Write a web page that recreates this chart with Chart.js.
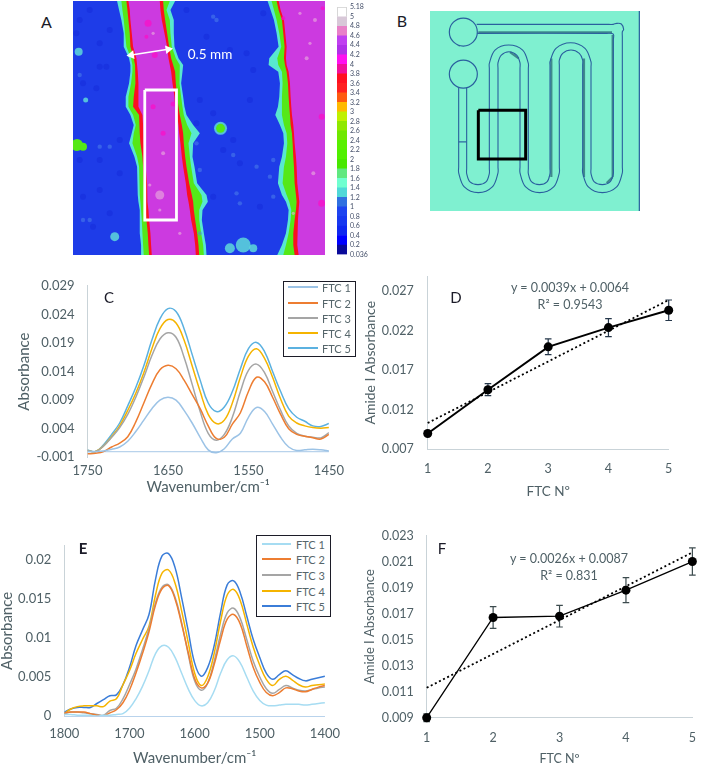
<!DOCTYPE html>
<html>
<head>
<meta charset="utf-8">
<style>
  html, body { margin: 0; padding: 0; background: #fff; }
  body { position: relative; width: 709px; height: 766px; overflow: hidden; font-family: Lato, sans-serif; }
  canvas { position: absolute; }
  .txt { position: absolute; white-space: nowrap; transform: translate(-50%, -50%); }
  .legend { position: absolute; box-sizing: border-box; background: #fff; border: 1.5px solid #1c1c28; }
  .legend i { position: absolute; height: 2px; }
  .legend b { position: absolute; white-space: nowrap; font-weight: 400; font-size: 11px; color: #56666b; transform: translateY(-50%); }
</style>
<script src="https://cdn.jsdelivr.net/npm/chart.js@4"></script>
</head>
<body>
<script>
// panel A, heat map, all read in image units off the micrograph
const heatRows = [3,30,60,100,140,175,195,215,250,290,320,345,375,400,430,470,500,550,585,605,630,660,700,735,765]

const a1Teal = [352,358,365,372,372,388,392,392,388,378,378,392,402,396,388,404,412,414,414,416,420,420,420,424,424]
const a1Green = [365,368,372,376,380,394,398,398,394,386,386,400,408,402,398,412,418,420,420,422,424,426,428,430,432]
const a1Red = [380,383,386,390,392,402,406,406,408,402,400,418,420,420,422,428,430,432,434,436,438,440,444,446,448]
const a1Mag = [386,390,392,396,400,410,412,414,416,416,416,428,430,432,432,436,438,442,442,444,446,448,452,454,456]

const b1Mag = [480,482,486,494,502,506,510,514,518,524,526,532,536,538,542,546,550,558,562,566,570,574,582,586,588]
const b1Red = [490,492,496,502,508,514,520,526,528,532,536,540,546,550,552,556,560,568,576,580,582,586,592,596,598]
const b1Green = [510,500,510,512,516,528,540,540,538,544,548,552,562,575,566,570,574,582,605,608,598,598,604,610,612]
const b1Teal = [526,512,522,522,524,536,550,548,544,550,554,560,580,600,580,578,584,592,620,624,608,606,612,618,620]

const a2Teal = [803,812,822,830,836,808,806,835,840,838,834,826,840,850,852,846,838,834,846,858,866,864,858,846,832]
const a2Green = [815,822,830,838,844,832,835,846,848,846,846,846,852,860,862,858,852,848,860,868,874,872,866,858,850]
const a2Red = [830,836,846,850,854,852,855,860,864,866,868,870,872,876,878,880,882,884,888,890,888,884,880,880,884]
const a2Mag = [836,842,852,856,860,858,860,866,870,872,874,876,880,882,884,888,890,892,896,898,896,894,892,892,896]
const rightEdge = heatRows.map(() => 975)

const darkX = [300,320,290,250,230,330,270,240,300,690,740,790,620,560,750,600,590,640,700,300,250,300,360,360,280,640,720,780,670,240,330,760]
const darkY = [200,200,265,250,100,90,30,60,130,150,160,40,110,30,300,300,370,340,420,480,590,570,520,420,680,590,490,620,450,480,640,210]
const paleBlueX = [590,600,700,710,820,600,330,250,270,640,650,770,810,820,720,240,300]
const paleBlueY = [430,510,465,580,590,700,440,660,660,50,60,500,530,480,610,225,440]
const tealX = [237,258,345,690,730,760,662]
const tealY = [155,300,710,745,735,745,385]
const tealR = [4,2.5,4.5,5,7.5,4,6.5]
const greenX = [232,250,662]
const greenY = [435,440,385]
const greenR = [6,4,4.5]
const hotX = [465,460,490,520,445,965,965,968,850,440]
const hotY = [165,320,400,312,70,350,610,25,55,110]
const hotR = [3,2.5,2.5,2.5,3.5,3,3.5,2,2,2]
const paleX = [480,490,900,945,920,940,450,480,460,930,880,540]
const paleY = [585,460,40,60,175,520,555,630,100,130,640,700]
const paleR = [4.5,2,1.6,2,2,2,1.6,1.6,1.6,1.6,1.6,1.6]

const boxX = [435,530,530,435,435]
const boxY = [270,270,660,660,270]
const arrowX = [395,505]
const arrowY = [165,148]

// colour scale of panel A, bottom to top
const scaleLabels = ['0.036','0.2','0.4','0.6','0.8','1','1.2','1.4','1.6','1.8','2','2.2','2.4','2.6','2.8','3','3.2','3.4','3.6','3.8','4','4.2','4.4','4.6','4.8','5','5.18']
const scaleColors = ['#0a0a9a','#0000ff','#1028f0','#1838f0','#1e44f0','#3070e0','#50d8d8','#70ffd0','#60e880','#48e800','#50f000','#58f000','#70e800','#90e800','#c0f000','#ffba00','#ff5a10','#ff2020','#ff1020','#f0109a','#ff10f0','#b030e8','#c040f0','#e880c8','#d8c8d8','#ffffff']

// panel B, channel walls of the chip
const wallAX = [146,146,146,163,205,247,264,264,264,264,274,297,320,330,330,330,330,347,389,431,448,448,448,448,458,483,508,518,518,518,518,535,577,620,637,637,637,637,641,634,620,610,590,200]
const wallAY = [262,500,518,560,577,560,518,500,205,188,165,155,165,188,205,500,518,560,577,560,518,500,195,180,160,150,160,180,195,500,518,560,577,560,518,500,110,95,88,72,70,73,73,73]
const wallBX = [170,170,170,180,204,228,238,238,238,238,255,296,338,355,355,355,355,365,388,411,420,420,420,420,438,482,525,543,543,543,543,553,577,600,610,610,610,610,590,200]
const wallBY = [262,505,520,545,553,545,520,505,205,190,150,135,150,190,205,505,520,545,553,545,520,505,195,185,145,128,145,185,200,505,520,545,553,545,520,505,120,102,100,100]
const shadeX = [205,606,NaN,608,608,NaN,424,424,NaN,522,522,NaN,608,590,NaN,300,326,NaN,126,150]
const shadeY = [97,97,NaN,105,530,NaN,175,530,NaN,175,530,NaN,530,548,NaN,156,175,NaN,116,138]
const portX = [160,160]
const portY = [96,222]
const stopX = [146,170]
const stopY = [425,425]
const frameX = [205,347,347,205,205]
const frameY = [330,330,476,476,330]
const edgeX = [688,688]
const edgeY = [33,632]

// panel C
const wavesC = [1750,1740,1730,1720,1710,1700,1690,1680,1670,1660,1650,1640,1630,1620,1610,1600,1590,1580,1570,1560,1550,1540,1530,1520,1510,1500,1490,1480,1470,1460,1450]
const c1 = [.0000,.0000,.0001,.0004,.0008,.0018,.0035,.0055,.0075,.0090,.0095,.0090,.0072,.0050,.0025,.0003,-.0002,.0005,.0022,.0032,.0060,.0077,.0070,.0048,.0025,.0008,.0002,.0003,.0004,.0003,.0001]
const c2 = [-.0004,-.0003,.0000,.0008,.0015,.0026,.0052,.0085,.0118,.0143,.0151,.0145,.0125,.0100,.0075,.0045,.0023,.0025,.0048,.0068,.0105,.0130,.0122,.0095,.0065,.0040,.0030,.0027,.0024,.0022,.0030]
const c3 = [.0002,.0000,.0010,.0025,.0042,.0065,.0095,.0130,.0168,.0197,.0208,.0200,.0165,.0118,.0070,.0032,.0020,.0030,.0060,.0105,.0142,.0153,.0138,.0105,.0072,.0045,.0032,.0027,.0025,.0024,.0033]
const c4 = [.0002,.0000,.0010,.0026,.0045,.0072,.0102,.0138,.0180,.0215,.0231,.0225,.0195,.0150,.0105,.0065,.0049,.0055,.0085,.0130,.0167,.0180,.0163,.0130,.0092,.0062,.0050,.0045,.0042,.0041,.0042]
const c5 = [.0003,.0000,.0012,.0030,.0050,.0080,.0112,.0150,.0195,.0232,.0250,.0245,.0215,.0170,.0125,.0085,.0070,.0078,.0105,.0145,.0180,.0191,.0175,.0140,.0105,.0075,.0060,.0053,.0045,.0044,.0049]
const ticksCx = [1750,1650,1550,1450]
const ticksCy = [-0.001,0.004,0.009,0.014,0.019,0.024,0.029]
const colorsC = ['#9cc3e6','#ed7d31','#a5a5a5','#f5b400','#5bb1e0']

// panel E
const wavesE = [1800,1790,1780,1770,1760,1750,1740,1730,1720,1710,1700,1690,1680,1670,1660,1650,1640,1630,1620,1610,1600,1590,1580,1570,1560,1550,1540,1530,1520,1510,1500,1490,1480,1470,1460,1450,1440,1430,1420,1410,1400]
const e1 = [.0002,.0002,.0001,.0001,.0001,.0000,.0001,.0001,.0002,.0003,.0010,.0022,.0038,.0058,.0080,.0090,.0088,.0075,.0055,.0035,.0020,.0013,.0017,.0032,.0055,.0072,.0077,.0068,.0050,.0032,.0020,.0014,.0013,.0014,.0015,.0015,.0015,.0014,.0015,.0016,.0017]
const e2 = [.0004,.0005,.0005,.0005,.0003,.0001,.0000,.0004,.0008,.0017,.0033,.0055,.0080,.0108,.0142,.0163,.0167,.0150,.0118,.0082,.0048,.0036,.0042,.0066,.0098,.0124,.0130,.0118,.0090,.0062,.0043,.0030,.0026,.0030,.0036,.0035,.0032,.0031,.0034,.0037,.0039]
const e3 = [.0003,.0005,.0005,.0004,.0003,.0002,.0001,.0007,.0010,.0022,.0040,.0060,.0085,.0112,.0145,.0165,.0168,.0152,.0120,.0080,.0045,.0033,.0042,.0070,.0105,.0132,.0138,.0125,.0098,.0070,.0050,.0035,.0029,.0034,.0039,.0036,.0033,.0032,.0034,.0036,.0037]
const e4 = [.0003,.0009,.0012,.0013,.0013,.0013,.0012,.0019,.0022,.0040,.0058,.0080,.0098,.0115,.0155,.0183,.0187,.0170,.0135,.0095,.0055,.0039,.0050,.0080,.0122,.0155,.0162,.0148,.0118,.0088,.0065,.0047,.0039,.0047,.0051,.0046,.0040,.0037,.0039,.0040,.0041]
const e5 = [.0005,.0009,.0011,.0011,.0011,.0016,.0021,.0026,.0027,.0040,.0062,.0090,.0110,.0130,.0175,.0205,.0208,.0190,.0152,.0110,.0068,.0051,.0062,.0090,.0133,.0168,.0173,.0158,.0128,.0098,.0075,.0055,.0047,.0053,.0058,.0053,.0048,.0045,.0047,.0049,.0051]
const ticksEx = [1800,1700,1600,1500,1400]
const ticksEy = [0,0.005,0.01,0.015,0.02]
const colorsE = ['#a6dcf2','#ed7d31','#a5a5a5','#f5b400','#3b7dd8']

// panels D and F
const ftc = [1,2,3,4,5]
const amideD = [.00896,.01452,.01996,.0224,.0246]
const errorD = [.0002,.00076,.001,.00114,.0013]
const trendXD = [1,5]
const trendYD = [.0103,.0259]
const ticksDy = [0.007,0.012,0.017,0.022,0.027]
const amideF = [.009,.0167,.0168,.0188,.021]
const errorF = [.0003,.00083,.00083,.00096,.00105]
const trendXF = [1,5]
const trendYF = [.0113,.0217]
const ticksFy = [0.009,0.011,0.013,0.015,0.017,0.019,0.021,0.023]

const seriesNames = ['FTC 1','FTC 2','FTC 3','FTC 4','FTC 5']
const inkColor = '#4f6066'
const axisColor = '#c9d3d8'

Chart.defaults.font.family = 'Lato, sans-serif'
Chart.defaults.color = inkColor
Chart.defaults.animation = false
Chart.defaults.layout.autoPadding = false

const zip = (xs, ys) => xs.map((x, i) => ({x: x, y: ys[i]}))

function addCanvas(left, top, w, h, css) {
    const c = document.createElement('canvas')
    c.width = w
    c.height = h
    c.style.left = left + 'px'
    c.style.top = top + 'px'
    c.style.width = w + 'px'
    c.style.height = h + 'px'
    if (css) c.style.cssText += css
    document.body.appendChild(c)
    return c
}

function addText(text, x, y, size, color, extra) {
    const d = document.createElement('div')
    d.className = 'txt'
    d.textContent = text
    d.style.left = x + 'px'
    d.style.top = y + 'px'
    d.style.fontSize = size + 'px'
    d.style.color = color
    if (extra) d.style.cssText += extra
    document.body.appendChild(d)
}

function addLegend(left, top, w, h, swatchLeft, swatchW, textLeft, rowY, colors) {
    const box = document.createElement('div')
    box.className = 'legend'
    box.style.cssText = `left:${left}px;top:${top}px;width:${w}px;height:${h}px`
    seriesNames.forEach((name, i) => {
        const sw = document.createElement('i')
        sw.style.cssText = `left:${swatchLeft - left - 2}px;top:${rowY[i] - top - 3}px;width:${swatchW}px;background:${colors[i]}`
        const t = document.createElement('b')
        t.textContent = name
        t.style.cssText = `left:${textLeft - left - 2}px;top:${rowY[i] - top - 2}px`
        box.appendChild(sw)
        box.appendChild(t)
    })
    document.body.appendChild(box)
}

// options for a plot whose inner area must sit at a fixed place on the page
function plotScales(cv, area, x, y) {
    const left = parseFloat(cv.style.left)
    const top = parseFloat(cv.style.top)
    const grid = {display: false, drawTicks: false}
    return {
        layout: {padding: {
            top: area.top - top,
            right: left + cv.width - area.right,
            left: 0,
            bottom: 0,
        }},
        scales: {
            x: {
                type: 'linear', min: x.min, max: x.max, reverse: !!x.reverse,
                grid: grid,
                border: {display: !!x.border, color: x.border},
                ticks: {autoSkip: false, maxRotation: 0, padding: x.pad, font: {size: x.size},
                    callback: v => String(v)},
                title: {display: true, text: x.title, padding: 0, font: {size: x.titleSize, lineHeight: 1}},
                afterBuildTicks: s => { s.ticks = x.ticks.map(v => ({value: v})) },
                afterFit: s => { s.height = top + cv.height - area.bottom },
            },
            y: {
                type: 'linear', min: y.min, max: y.max,
                grid: grid,
                border: {color: axisColor},
                ticks: {autoSkip: false, padding: y.pad, font: {size: y.size}, callback: y.format},
                title: {display: true, text: y.title, padding: {top: y.titlePad, bottom: 0}, font: {size: y.titleSize, lineHeight: 1}},
                afterBuildTicks: s => { s.ticks = y.ticks.map(v => ({value: v})) },
                afterFit: s => { s.width = area.left - left },
            },
        },
    }
}

const errorBars = {
    id: 'errorBars',
    beforeDatasetsDraw(chart, args, opts) {
        const {ctx, scales} = chart
        ctx.save()
        ctx.strokeStyle = opts.color
        ctx.lineWidth = opts.width
        ftc.forEach((f, i) => {
            const v = opts.values[i]
            const e = opts.errors[i]
            const px = scales.x.getPixelForValue(f)
            const hi = scales.y.getPixelForValue(v + e)
            const lo = scales.y.getPixelForValue(v - e)
            ctx.beginPath()
            ctx.moveTo(px, hi); ctx.lineTo(px, lo)
            ctx.moveTo(px - 3.3, hi); ctx.lineTo(px + 3.3, hi)
            ctx.moveTo(px - 3.3, lo); ctx.lineTo(px + 3.3, lo)
            ctx.stroke()
        })
        ctx.restore()
    },
}

// ---- A heat map
const heatBands = [
    [a1Teal, '#1e3ce8'], [a1Green, '#58e8d0'], [a1Red, '#55e818'], [a1Mag, '#fa1020'],
    [b1Mag, '#cc3ae0'], [b1Red, '#fa1020'], [b1Green, '#55e818'], [b1Teal, '#58e8d0'],
    [a2Teal, '#1e3ce8'], [a2Green, '#58e8d0'], [a2Red, '#55e818'], [a2Mag, '#fa1020'],
    [rightEdge, '#cc3ae0'],
]
const spots = (xs, ys, r, color) => ({
    data: zip(xs, ys), showLine: false, pointRadius: r, pointHoverRadius: r,
    pointBackgroundColor: color, pointBorderWidth: 0,
})

new Chart(addCanvas(73.3, 1, 252, 254, 'filter:blur(0.7px)'), {
    type: 'line',
    data: {datasets: [
        {data: zip(arrowX, arrowY), borderColor: '#fff', borderWidth: 1.6, pointStyle: 'triangle', pointRadius: 5,
            pointBackgroundColor: '#fff', pointBorderWidth: 0, pointRotation: [-99, 81]},
        {data: zip(boxX, boxY), borderColor: '#fff', borderWidth: 2.8, pointRadius: 0},
        spots(greenX, greenY, greenR, '#55e818'),
        spots(tealX, tealY, tealR, 'rgba(98,226,216,0.8)'),
        spots(hotX, hotY, hotR, 'rgba(250,16,200,0.75)'),
        spots(paleX, paleY, paleR, 'rgba(234,176,220,0.6)'),
        spots(paleBlueX, paleBlueY, 2.2, 'rgba(79,134,234,0.5)'),
        spots(darkX, darkY, 3, 'rgba(18,38,214,0.4)'),
    ].concat(heatBands.map(b => ({
        data: zip(b[0], heatRows), borderWidth: 0, pointRadius: 0, fill: {value: 220}, backgroundColor: b[1], tension: 0,
    })))},
    options: {
        responsive: false, indexAxis: 'y', parsing: {xAxisKey: 'x', yAxisKey: 'y'},
        plugins: {legend: {display: false}, tooltip: {enabled: false}},
        scales: {
            x: {type: 'linear', display: false, min: 220, max: 975},
            y: {type: 'linear', display: false, min: 3, max: 765, reverse: true},
        },
    },
})

// colour scale next to the map
new Chart(addCanvas(337, 0, 42, 262), {
    type: 'bar',
    data: {labels: ['z'], datasets: scaleColors.map(c => ({
        data: [1], backgroundColor: c, barPercentage: 1, categoryPercentage: 1,
        borderWidth: c === '#ffffff' ? 1 : 0, borderColor: '#c4c4c4',
    }))},
    options: {
        responsive: false,
        layout: {padding: {top: 5.5, bottom: 7.5}},
        plugins: {legend: {display: false}, tooltip: {enabled: false}},
        scales: {
            x: {display: false, stacked: true},
            y: {
                stacked: true, position: 'right', min: 0, max: 26,
                grid: {display: false, drawTicks: false}, border: {display: false},
                afterBuildTicks: s => { s.ticks = scaleLabels.map((l, i) => ({value: i})) },
                afterFit: s => { s.width = 32 },
                ticks: {autoSkip: false, padding: 3, font: {size: 7}, color: '#45506a', callback: (v) => scaleLabels[v]},
            },
        },
    },
})

// ---- B chip
new Chart(addCanvas(430, 11, 210, 200, 'background:#7ff0d0;filter:blur(0.3px)'), {
    type: 'scatter',
    data: {datasets: [
        {data: zip(frameX, frameY), showLine: true, borderColor: '#000', borderWidth: 3, pointRadius: 0},
        {data: zip(portX, portY), pointRadius: 14, pointBackgroundColor: '#7ff0d0', pointBorderColor: '#2a5f9e', pointBorderWidth: 1.2},
        {data: zip(stopX, stopY), showLine: true, borderColor: '#2a5f9e', borderWidth: 1.2, pointRadius: 0},
        {data: zip(wallAX, wallAY), showLine: true, borderColor: '#2a5f9e', borderWidth: 1.1, pointRadius: 0, tension: 0.35},
        {data: zip(wallBX, wallBY), showLine: true, borderColor: '#2a5f9e', borderWidth: 1.1, pointRadius: 0, tension: 0.35},
        {data: zip(shadeX, shadeY), showLine: true, spanGaps: false, borderColor: '#3f8a8c', borderWidth: 2.2, pointRadius: 0},
        {data: zip(edgeX, edgeY), showLine: true, borderColor: '#2a5f9e', borderWidth: 1.2, pointRadius: 0},
    ]},
    options: {
        responsive: false,
        plugins: {legend: {display: false}, tooltip: {enabled: false}},
        scales: {
            x: {type: 'linear', display: false, min: 60, max: 690},
            y: {type: 'linear', display: false, min: 33, max: 632, reverse: true},
        },
    },
})

// ---- spectra
function spectrum(cv, area, waves, series, colors, zeroLine, x, y) {
    const sets = series.map((vals, i) => ({
        label: seriesNames[i],
        data: zip(waves, vals), showLine: true, borderColor: colors[i], borderWidth: 1.5,
        pointRadius: 0, tension: 0.4,
    }))
    if (zeroLine) sets.push({data: zip(x.ticksEnds, [0, 0]), showLine: true, borderColor: zeroLine, borderWidth: 1.2, pointRadius: 0})
    const o = plotScales(cv, area, x, y)
    new Chart(cv, {
        type: 'scatter',
        data: {datasets: sets},
        options: Object.assign({responsive: false, plugins: {legend: {display: false}, tooltip: {enabled: false}}}, o),
    })
}

spectrum(addCanvas(0, 265, 350, 230), {left: 87.5, top: 280, right: 334, bottom: 457.3},
    wavesC, [c1, c2, c3, c4, c5], colorsC, '#b9d3ec',
    {min: 1450, max: 1750, reverse: true, ticks: ticksCx, ticksEnds: [1750, 1450], pad: 6, size: 13, title: 'Wavenumber/cm⁻¹', titleSize: 15},
    {min: -0.001, max: 0.029, ticks: ticksCy, pad: 13, size: 13, format: v => v.toFixed(3), title: 'Absorbance', titleSize: 15, titlePad: 17})

spectrum(addCanvas(0, 525, 350, 241), {left: 64.3, top: 537.3, right: 328, bottom: 716},
    wavesE, [e1, e2, e3, e4, e5], colorsE, null,
    {min: 1400, max: 1800, reverse: true, border: '#b9d3ec', ticks: ticksEx, pad: 10, size: 13, title: 'Wavenumber/cm⁻¹', titleSize: 15},
    {min: 0, max: 0.0218, ticks: ticksEy, pad: 13, size: 13, format: v => String(v), title: 'Absorbance', titleSize: 15, titlePad: 0})

// ---- amide I plots
function amidePlot(cv, area, values, errors, trendX, trendY, lineWidth, errColor, x, y) {
    const o = plotScales(cv, area, x, y)
    o.plugins = {
        legend: {display: false}, tooltip: {enabled: false},
        errorBars: {values: values, errors: errors, color: errColor, width: 1.2},
    }
    new Chart(cv, {
        type: 'scatter',
        plugins: [errorBars],
        data: {datasets: [
            {data: zip(ftc, values), showLine: true, borderColor: '#000', borderWidth: lineWidth,
                pointRadius: 4.5, pointBackgroundColor: '#000', pointBorderWidth: 0, clip: false},
            {data: zip(trendX, trendY), showLine: true, borderColor: '#000', borderWidth: 1.8, borderDash: [2, 2.6],
                pointRadius: 0, clip: false},
        ]},
        options: Object.assign({responsive: false}, o),
    })
}

amidePlot(addCanvas(350, 255, 359, 243), {left: 427.7, top: 267, right: 668.7, bottom: 449},
    amideD, errorD, trendXD, trendYD, 2, '#25374a',
    {min: 1, max: 5, border: axisColor, ticks: ftc, pad: 12, size: 12.5, title: 'FTC Nº', titleSize: 13.5},
    {min: 0.007, max: 0.02888, ticks: ticksDy, pad: 14, size: 12.5, format: v => v.toFixed(3), title: 'Amide I Absorbance', titleSize: 14, titlePad: 13})

amidePlot(addCanvas(350, 515, 359, 250), {left: 426.7, top: 527.7, right: 703.3, bottom: 717.7},
    amideF, errorF, trendXF, trendYF, 1.3, '#3c4b4e',
    {min: 1, max: 5, border: axisColor, ticks: ftc, pad: 13, size: 12.5, title: 'FTC Nº', titleSize: 12.5},
    {min: 0.009, max: 0.023, ticks: ticksFy, pad: 13, size: 12.5, format: v => v.toFixed(3), title: 'Amide I Absorbance', titleSize: 13, titlePad: 13})

// ---- legends and free text
addLegend(283, 281, 73, 76, 289, 30, 323, [288, 304, 319, 334, 349], colorsC)
addLegend(256, 535, 75, 82, 263, 29, 297, [545, 560, 576, 592, 607], colorsE)

addText('A', 46.5, 21, 16, '#1b1b28')
addText('B', 402, 20, 16, '#1b1b28')
addText('C', 109, 297, 15, '#1b1b28')
addText('D', 456, 297, 15, '#1b1b28')
addText('E', 83, 548, 15, '#1b1b28', 'font-weight:700')
addText('F', 442, 548, 15, '#1b1b28')
addText('0.5 mm', 210, 54, 13.5, '#ffffff')
addText('y = 0.0039x + 0.0064', 570, 287, 12.5, inkColor)
addText('R² = 0.9543', 570, 304, 12.5, inkColor)
addText('y = 0.0026x + 0.0087', 569, 558, 12.5, inkColor)
addText('R² = 0.831', 569, 575, 12.5, inkColor)
</script>
</body>
</html>
